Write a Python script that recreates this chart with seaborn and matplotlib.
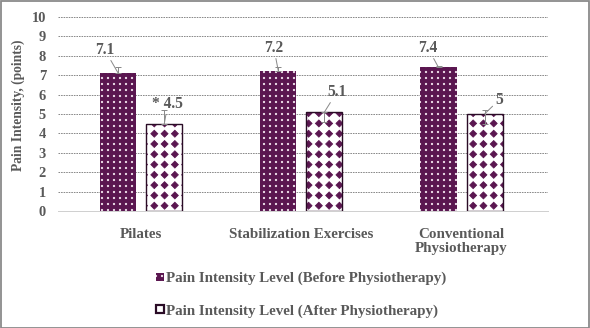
import numpy as np
import pandas as pd
import matplotlib
matplotlib.use("Agg")
import matplotlib.pyplot as plt
from matplotlib import hatch as mhatch
from matplotlib.path import Path
from matplotlib.patches import Patch, Rectangle
import seaborn as sns

# --- data -------------------------------------------------------------
groups = ["Pilates", "Stabilization Exercises", "Conventional\nPhysiotherapy"]
series = ["Pain Intensity Level (Before Physiotherapy)",
          "Pain Intensity Level (After Physiotherapy)"]
before = [7.1, 7.2, 7.4]
after = [4.5, 5.1, 5.0]
before_err_lo = [0.0, 0.0, 0.0]
before_err_hi = [0.3, 0.2, 0.05]
after_err_lo = [0.0, 0.5, 0.5]
after_err_hi = [0.7, 0.0, 0.2]
before_labels = ["7.1", "7.2", "7.4"]
after_labels = ["* 4.5", "5.1", "5"]
yticks = list(range(0, 11))

PURPLE = "#5a1650"
OUTLINE = "#2a0c26"
TEXT = "#595959"
FONT = "Liberation Serif"


# --- fill patterns on a square (non-staggered) grid ----------------------
class _GridShapes(mhatch.HatchPatternBase):
    char = "."
    size = 0.1
    rows_per_char = None
    shape_vertices = None
    shape_codes = None

    def __init__(self, hatch, density):
        per = self.rows_per_char or density
        self.num_rows = int(hatch.count(self.char) * per)
        n = len(self.shape_vertices)
        self.num_vertices = (self.num_rows + 1) ** 2 * n if self.num_rows else 0

    def set_vertices_and_codes(self, vertices, codes):
        offset = 1.0 / self.num_rows
        sv = self.shape_vertices * offset * self.size
        n = len(sv)
        k = 0
        for r in range(self.num_rows + 1):
            for c in range(self.num_rows + 1):
                vertices[k:k + n] = sv + (c * offset, r * offset)
                codes[k:k + n] = self.shape_codes
                k += n


_circle = Path.unit_circle()


class GridDots(_GridShapes):
    char = "."
    size = 0.12
    shape_vertices = _circle.vertices
    shape_codes = _circle.codes


class GridDiamonds(_GridShapes):
    char = "O"
    size = 0.34
    rows_per_char = 7
    shape_vertices = np.array([[0, -1], [1, 0], [0, 1], [-1, 0], [0, -1]], float)
    shape_codes = np.array([Path.MOVETO, Path.LINETO, Path.LINETO,
                            Path.LINETO, Path.CLOSEPOLY], dtype=Path.code_type)


mhatch._hatch_types = [t for t in mhatch._hatch_types
                       if t not in (mhatch.SmallFilledCircles, mhatch.LargeCircles)]
mhatch._hatch_types += [GridDots, GridDiamonds]

df = pd.DataFrame({
    "group": groups * 2,
    "series": [series[0]] * 3 + [series[1]] * 3,
    "value": before + after,
})

W, H, DPI = 590, 328, 72
sns.set_style("white")
plt.rcParams["font.family"] = [FONT, "DejaVu Serif"]
plt.rcParams["font.weight"] = "bold"
plt.rcParams["hatch.linewidth"] = 0.8

fig = plt.figure(figsize=(W / DPI, H / DPI), dpi=DPI)
ax = fig.add_axes([58 / W, 117 / H, (548 - 58) / W, (211 - 17) / H])

sns.barplot(data=df, x="group", y="value", hue="series", order=groups,
            hue_order=series, width=0.575, gap=0.217, errorbar=None,
            palette=[PURPLE, PURPLE], ax=ax, legend=False, zorder=3)

bars = [p for p in ax.patches if isinstance(p, Rectangle) and p.get_height() > 0]
bars = sorted(bars, key=lambda p: p.get_x())
before_bars = bars[0::2]
after_bars = bars[1::2]

for p in before_bars:
    p.set_facecolor(PURPLE)
    p.set_edgecolor("#f3e6f0")
    p.set_linewidth(0)
    p.set_hatch("..")
for p in after_bars:
    p.set_facecolor("white")
    p.set_edgecolor(PURPLE)
    p.set_linewidth(0)
    p.set_hatch("O")
    ax.add_patch(Rectangle((p.get_x(), 0), p.get_width(), p.get_height(),
                           fill=False, edgecolor=OUTLINE, linewidth=1.4,
                           zorder=4))


def centers(ps):
    return [p.get_x() + p.get_width() / 2 for p in ps]


# error bars
ax.errorbar(centers(before_bars), before, yerr=[before_err_lo, before_err_hi],
            fmt="none", ecolor="#8a8a8a", elinewidth=1, capsize=3, zorder=5)
ax.errorbar(centers(after_bars), after, yerr=[after_err_lo, after_err_hi],
            fmt="none", ecolor="#8a8a8a", elinewidth=1, capsize=3, zorder=5)

# value labels with leader lines
lab_kw = dict(fontsize=15.5, fontweight="bold", color=TEXT, ha="center",
              va="center", zorder=6,
              arrowprops=dict(arrowstyle="-", color="#8a8a8a", lw=1.0,
                              shrinkA=0, shrinkB=0))
before_off = [(-0.084, 1.2), (-0.028, 1.2), (-0.066, 1.0)]
after_off = [(0.022, 1.02), (0.078, 1.03), (0.09, 0.72)]
for x, v, t, (dx, dy) in zip(centers(before_bars), before, before_labels,
                             before_off):
    ax.annotate(t, xy=(x, v), xytext=(x + dx, v + dy), **lab_kw)
for x, v, t, (dx, dy) in zip(centers(after_bars), after, after_labels,
                             after_off):
    ax.annotate(t, xy=(x, v), xytext=(x + dx, v + dy), **lab_kw)

# axes styling
ax.set_ylim(0, 10)
ax.set_xlim(-0.52, 2.54)
ax.set_yticks(yticks)
ax.set_yticklabels([str(t) for t in yticks], fontsize=14.5, fontweight="bold",
                   color=TEXT)
ax.tick_params(axis="x", labelsize=15, labelcolor=TEXT, length=0, pad=17)
ax.tick_params(axis="y", length=0, pad=12)
for lab in ax.get_xticklabels():
    lab.set_fontweight("bold")
    lab.set_linespacing(1.1)
ax.set_xlabel("")
ax.set_ylabel("Pain Intensity, (points)", fontsize=13.5, fontweight="bold",
              color=TEXT)
ax.yaxis.set_label_coords(-33 / 490, (211 - 105) / 194)
for t in yticks[1:]:
    ax.axhline(t, color="#6e6e6e", lw=0.8, ls=(0, (2, 1.2)), zorder=1)
for s in ["left", "right", "top"]:
    ax.spines[s].set_visible(False)
ax.spines["bottom"].set_color("#d0d0d0")
ax.spines["bottom"].set_linewidth(1)

# legend below the plot
h_before = Patch(facecolor=PURPLE, edgecolor="#f3e6f0", lw=0, hatch="..")
h_after = Patch(facecolor="white", edgecolor=OUTLINE, lw=2.2)
leg = fig.legend([h_before, h_after], series, loc="upper left",
                 bbox_to_anchor=(156 / W, (H - 272) / H), frameon=False,
                 prop={"family": FONT, "weight": "bold", "size": 15},
                 handlelength=0.5, handleheight=0.5, handletextpad=0.2,
                 labelspacing=1.25, borderpad=0, borderaxespad=0)
for t in leg.get_texts():
    t.set_color(TEXT)

# figure border
fig.patches.append(Rectangle((0.5 / W, 0.5 / H), 1 - 1.5 / W, 1 - 1.5 / H,
                             transform=fig.transFigure, fill=False,
                             edgecolor="#8a8a8a", lw=1.8))

fig.savefig("out.png", dpi=DPI)
